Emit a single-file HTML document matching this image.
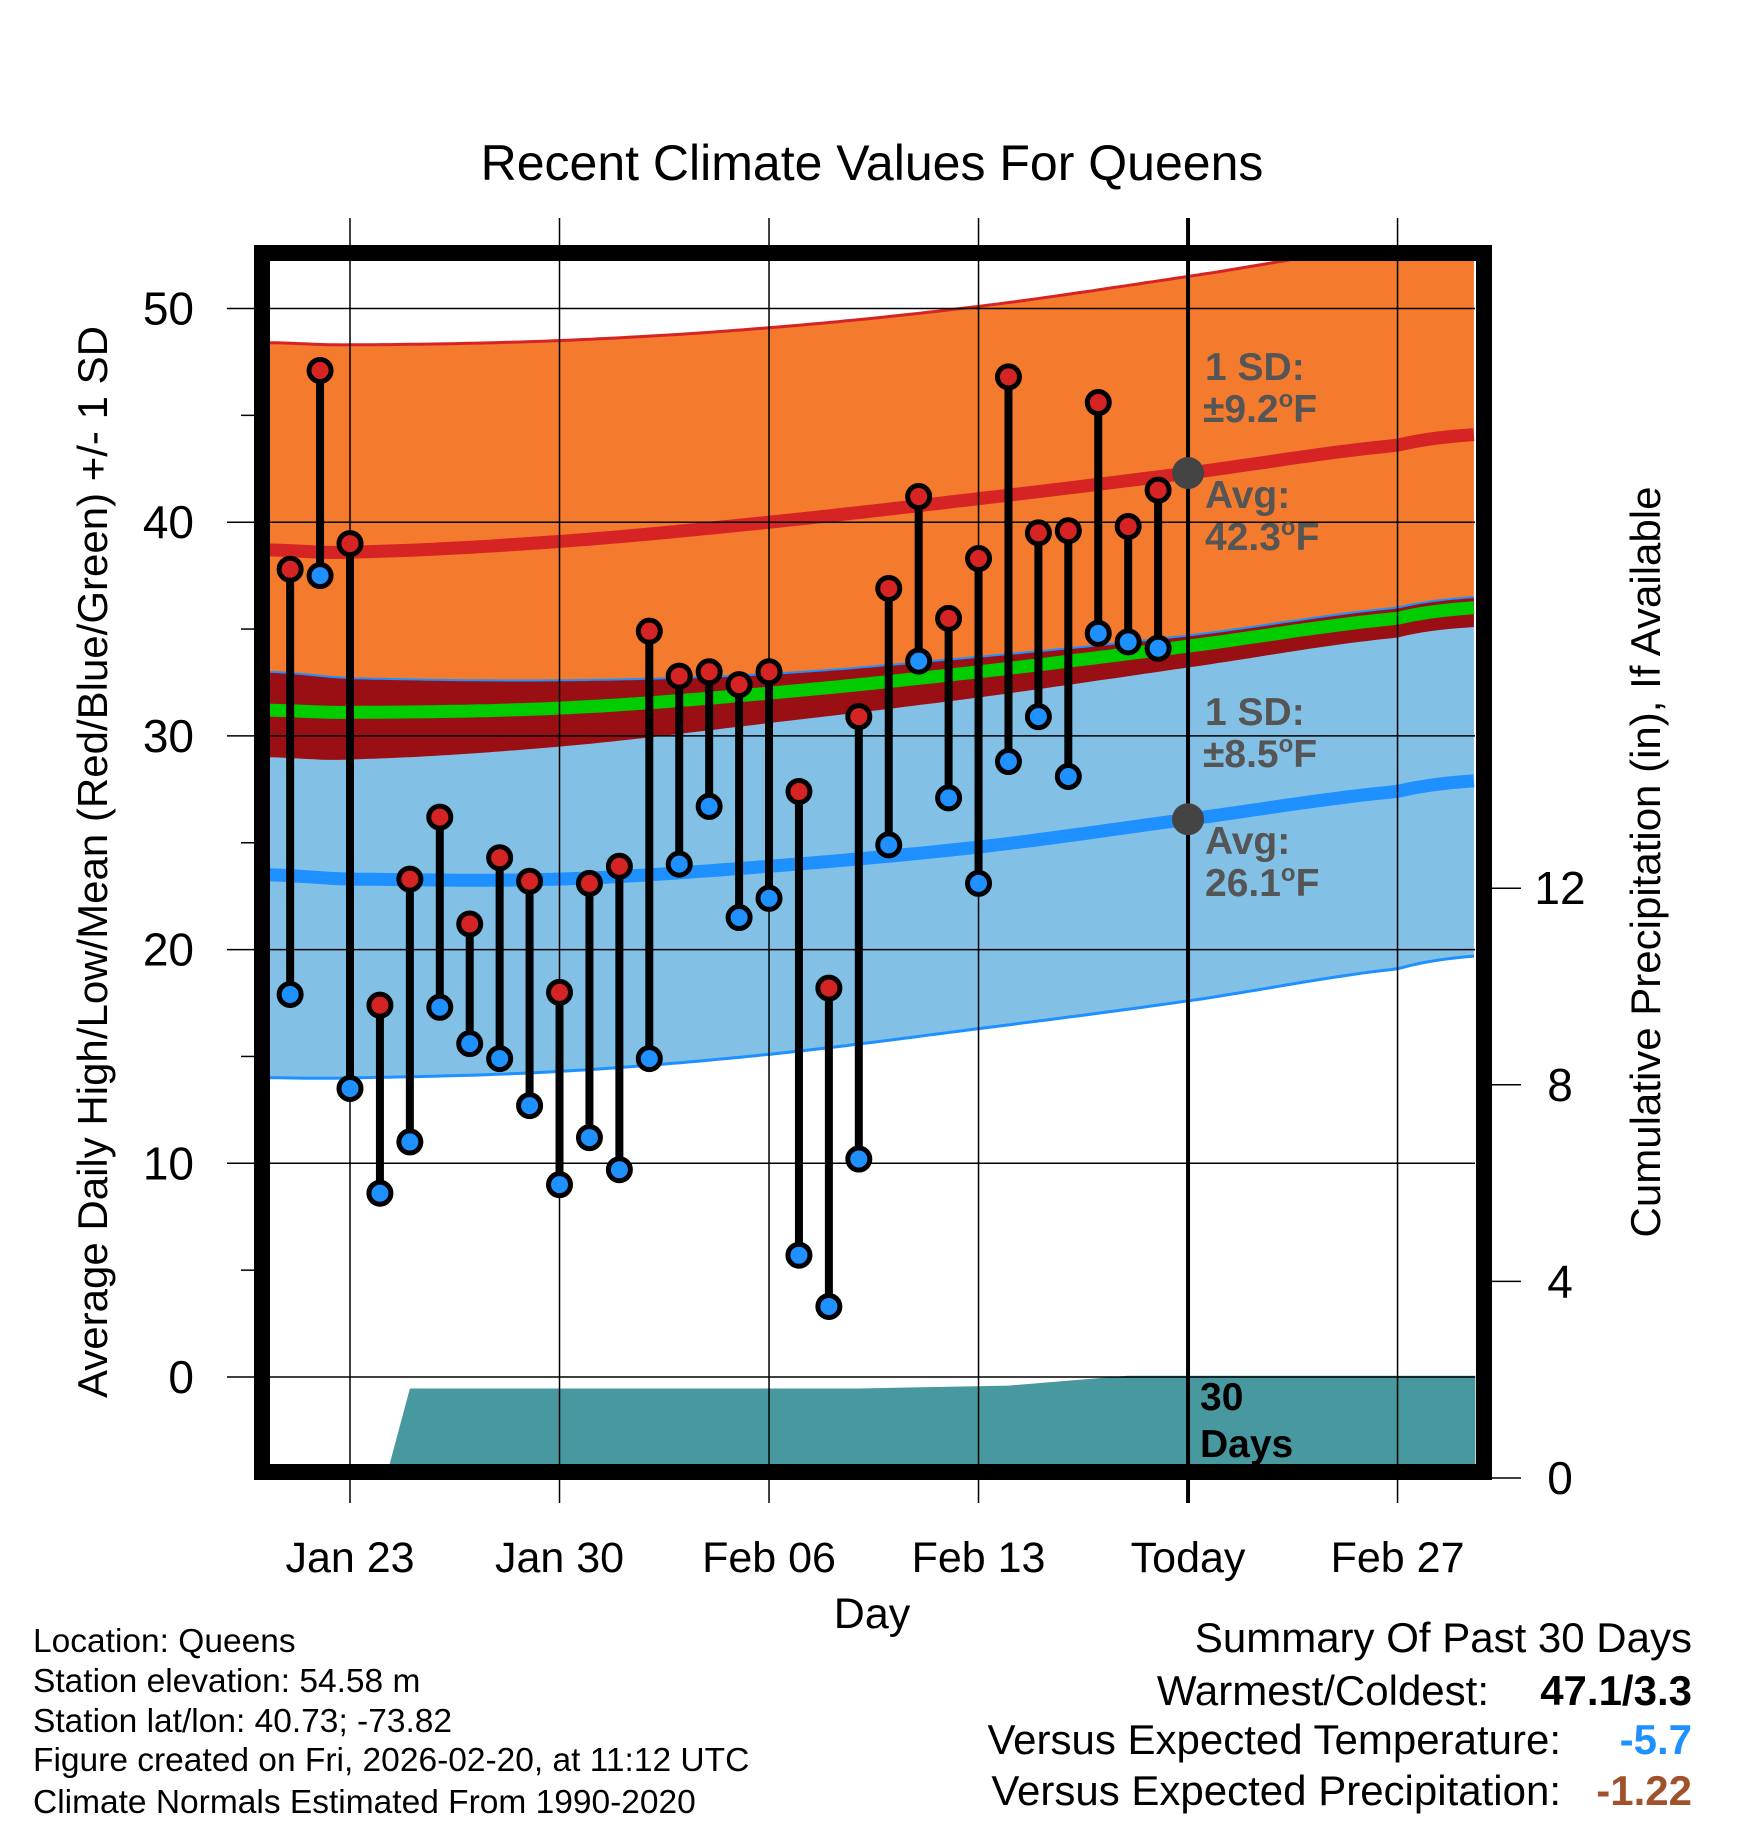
<!DOCTYPE html>
<html><head><meta charset="utf-8"><style>
html,body{margin:0;padding:0;background:#fff;}
svg{display:block;font-family:"Liberation Sans",Arial,sans-serif;}
</style></head><body>
<svg id="chart" width="1748" height="1828" viewBox="0 0 1748 1828" xmlns="http://www.w3.org/2000/svg">
<defs><clipPath id="plotclip"><rect x="270" y="261" width="1206" height="1204"/></clipPath></defs>
<g id="bands" clip-path="url(#plotclip)"></g>
<g id="grid"></g>
<g id="marks"></g>
<g id="axes"></g>
<text x="872" y="180" font-size="50" text-anchor="middle">Recent Climate Values For Queens</text>
<text x="872" y="1628" font-size="43" text-anchor="middle">Day</text>
<text transform="translate(107,862) rotate(-90)" font-size="42" text-anchor="middle">Average Daily High/Low/Mean (Red/Blue/Green) +/- 1 SD</text>
<text transform="translate(1660,862) rotate(-90)" font-size="42" text-anchor="middle">Cumulative Precipitation (in), If Available</text>
<g font-size="39" font-weight="bold" fill="#555">
<text x="1205" y="380">1 SD:</text>
<text x="1203" y="422">±9.2<tspan font-size="24" dy="-15">o</tspan><tspan dy="15">F</tspan></text>
<text x="1205" y="508">Avg:</text>
<text x="1205" y="550">42.3<tspan font-size="24" dy="-15">o</tspan><tspan dy="15">F</tspan></text>
<text x="1205" y="725">1 SD:</text>
<text x="1203" y="767">±8.5<tspan font-size="24" dy="-15">o</tspan><tspan dy="15">F</tspan></text>
<text x="1205" y="854">Avg:</text>
<text x="1205" y="896">26.1<tspan font-size="24" dy="-15">o</tspan><tspan dy="15">F</tspan></text>
</g>
<g font-size="39" font-weight="bold" fill="#000">
<text x="1200" y="1410">30</text><text x="1200" y="1457">Days</text></g>
<g font-size="33.5" fill="#000">
<text x="33" y="1652">Location: Queens</text>
<text x="33" y="1692">Station elevation: 54.58 m</text>
<text x="33" y="1732">Station lat/lon: 40.73; -73.82</text>
<text x="33" y="1771">Figure created on Fri, 2026-02-20, at 11:12 UTC</text>
<text x="33" y="1813">Climate Normals Estimated From 1990-2020</text>
</g>
<g font-size="42">
<text x="1692" y="1652" text-anchor="end">Summary Of Past 30 Days</text>
<text x="1489" y="1705" text-anchor="end">Warmest/Coldest:</text>
<text x="1692" y="1705" text-anchor="end" font-weight="bold">47.1/3.3</text>
<text x="1561" y="1754" text-anchor="end">Versus Expected Temperature:</text>
<text x="1692" y="1754" text-anchor="end" font-weight="bold" fill="#1e90ff">-5.7</text>
<text x="1561" y="1805" text-anchor="end">Versus Expected Precipitation:</text>
<text x="1692" y="1805" text-anchor="end" font-weight="bold" fill="#a0522d">-1.22</text>
</g>
</svg>
<script>
// ---- data ----
const normDays = [-2.67, 0, 7, 14, 21, 28, 35, 37.6];
const highMean = [38.7, 38.6, 39.1, 40.0, 41.1, 42.3, 43.6, 44.1];
const highUpper = [48.4, 48.3, 48.5, 49.1, 50.1, 51.5, 53.0, 53.6];
const highLower = [29.0, 28.9, 29.5, 30.6, 31.8, 33.2, 34.6, 35.1];
const lowMean = [23.5, 23.3, 23.3, 23.9, 24.8, 26.1, 27.4, 27.9];
const lowUpper = [33.0, 32.7, 32.6, 32.9, 33.7, 34.7, 36.0, 36.5];
const lowLower = [14.0, 14.0, 14.3, 15.1, 16.3, 17.6, 19.1, 19.7];
const meanLine = [31.2, 31.1, 31.3, 32.0, 33.0, 34.2, 35.5, 36.0];
const precipDays = [1.2, 2.0, 17, 22, 26, 37.6];
const precipVals = [0, 1.82, 1.82, 1.88, 2.08, 2.08];
const dayIdx = [-2,-1,0,1,2,3,4,5,6,7,8,9,10,11,12,13,14,15,16,17,18,19,20,21,22,23,24,25,26,27];
const highs = [37.8,47.1,39.0,17.4,23.3,26.2,21.2,24.3,23.2,18.0,23.1,23.9,34.9,32.8,33.0,32.4,33.0,27.4,18.2,30.9,36.9,41.2,35.5,38.3,46.8,39.5,39.6,45.6,39.8,41.5];
const lows = [17.9,37.5,13.5,8.6,11.0,17.3,15.6,14.9,12.7,9.0,11.2,9.7,14.9,24.0,26.7,21.5,22.4,5.7,3.3,10.2,24.9,33.5,27.1,23.1,28.8,30.9,28.1,34.8,34.4,34.1];
const xTickDays = [0, 7, 14, 21, 28, 35];
const xTickLabels = ["Jan 23","Jan 30","Feb 06","Feb 13","Today","Feb 27"];
const yTicks = [0,10,20,30,40,50];
const y2Ticks = [0,4,8,12];
const todayDay = 28;

// ---- axes ----
const X0=270, X1=1475, Y0=261, Y1=1465;
const x = d => 350 + d*29.93;
const y = v => 1377 - v*21.37;
const yp = p => 1478 - p*49.15;
const NS="http://www.w3.org/2000/svg";
function mk(tag, attrs, parent){const e=document.createElementNS(NS,tag);for(const k in attrs)e.setAttribute(k,attrs[k]);parent.appendChild(e);return e;}
function interp(ds, vs, d){ if(d<=ds[0])return vs[0]; for(let i=1;i<ds.length;i++){ if(d<=ds[i]){const t=(d-ds[i-1])/(ds[i]-ds[i-1]);
  const p0=vs[Math.max(i-2,0)],p1=vs[i-1],p2=vs[i],p3=vs[Math.min(i+1,vs.length-1)];
  const t2=t*t,t3=t2*t; return 0.5*((2*p1)+(-p0+p2)*t+(2*p0-5*p1+4*p2-p3)*t2+(-p0+3*p1-3*p2+p3)*t3);} } return vs[vs.length-1];}
const samp=[]; for(let d=-2.7; d<=37.7; d+=0.25) samp.push(d);
const linePts = arr => samp.map(d=>x(d).toFixed(1)+","+y(interp(normDays,arr,d)).toFixed(1));
const bandPath = (a,b) => "M"+linePts(a).join("L")+"L"+linePts(b).reverse().join("L")+"Z";
const bands=document.getElementById('bands');
let e;
e=mk('path',{d:bandPath(highUpper,highLower),fill:'#f47a2e'},bands);


e=mk('path',{d:bandPath(lowUpper,lowLower),fill:'#82c0e6'},bands);


e=mk('path',{d:bandPath(lowUpper,highLower),fill:'#9a0f14'},bands);


e=mk('polyline',{points:linePts(highUpper).join(" "),fill:'none',stroke:'#d62324','stroke-width':3},bands);


e=mk('polyline',{points:linePts(lowUpper).join(" "),fill:'none',stroke:'#1e90ff','stroke-width':2},bands);


e=mk('polyline',{points:linePts(lowLower).join(" "),fill:'none',stroke:'#1e90ff','stroke-width':3},bands);


e=mk('polyline',{points:linePts(meanLine).join(" "),fill:'none',stroke:'#00cc00','stroke-width':13},bands);


e=mk('polyline',{points:linePts(highMean).join(" "),fill:'none',stroke:'#d62324','stroke-width':13},bands);


e=mk('polyline',{points:linePts(lowMean).join(" "),fill:'none',stroke:'#1e90ff','stroke-width':13},bands);


// precip
let pp="M"+x(precipDays[0])+","+yp(0);
for(let i=0;i<precipDays.length;i++) pp+="L"+x(precipDays[i]).toFixed(1)+","+yp(precipVals[i]).toFixed(1);
pp+="L"+x(precipDays[precipDays.length-1]).toFixed(1)+","+yp(0)+"Z";
e=mk('path',{d:pp,fill:'#48999f'},bands);



// grid
const grid=document.getElementById('grid');
yTicks.forEach(v=>{
  e=mk('line',{x1:227,x2:X1,y1:y(v),y2:y(v),stroke:'#000','stroke-width':1.5},grid);
  
  
});
[5,15,25,35,45].forEach(v=>{
  e=mk('line',{x1:241,x2:254,y1:y(v),y2:y(v),stroke:'#000','stroke-width':1.5},grid);
  
  
});
xTickDays.forEach((d,i)=>{
  if(d===todayDay) return;
  e=mk('line',{x1:x(d),x2:x(d),y1:218,y2:1503,stroke:'#000','stroke-width':1.5},grid);
  
  
});
e=mk('line',{x1:x(todayDay),x2:x(todayDay),y1:218,y2:1503,stroke:'#000','stroke-width':4},grid);


e=mk('circle',{cx:x(todayDay),cy:y(interp(normDays,highMean,todayDay)),r:16,fill:'#444'},grid);


e=mk('circle',{cx:x(todayDay),cy:y(interp(normDays,lowMean,todayDay)),r:16,fill:'#444'},grid);



// marks
const marks=document.getElementById('marks');
dayIdx.forEach((d,i)=>{
  e=mk('line',{x1:x(d),x2:x(d),y1:y(highs[i]),y2:y(lows[i]),stroke:'#000','stroke-width':8},marks);
  
  
});
dayIdx.forEach((d,i)=>{
  e=mk('circle',{cx:x(d),cy:y(highs[i]),r:11,fill:'#d62324',stroke:'#000','stroke-width':5},marks);
  
  
  e=mk('circle',{cx:x(d),cy:y(lows[i]),r:11,fill:'#1e90ff',stroke:'#000','stroke-width':5},marks);
  
  
});

// axes
const axes=document.getElementById('axes');
e=mk('rect',{x:262,y:253,width:1222,height:1219,fill:'none',stroke:'#000','stroke-width':16},axes);


yTicks.forEach(v=>{
  e=mk('text',{x:194,y:y(v)+16,'font-size':46,'text-anchor':'end'},axes);
  e.textContent=v;
  
  
});
y2Ticks.forEach(p=>{
  e=mk('line',{x1:1492,x2:1521,y1:yp(p),y2:yp(p),stroke:'#000','stroke-width':1.5},axes);
  
  
  e=mk('text',{x:1560,y:yp(p)+16,'font-size':46,'text-anchor':'middle'},axes);
  e.textContent=p;
  
  
});
xTickDays.forEach((d,i)=>{
  e=mk('text',{x:x(d),y:1572,'font-size':43,'text-anchor':'middle'},axes);
  e.textContent=xTickLabels[i];
  
  
});
</script>
</body></html>
